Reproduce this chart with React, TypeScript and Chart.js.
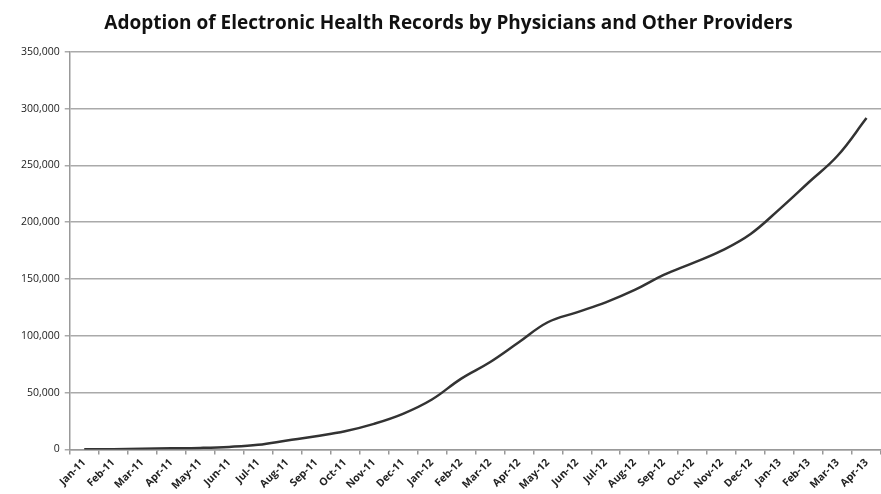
import React, { useEffect, useRef } from "react";
import { Chart, registerables } from "chart.js";

Chart.register(...registerables);

const months = [
  "Jan-11", "Feb-11", "Mar-11", "Apr-11", "May-11", "Jun-11", "Jul-11", "Aug-11", "Sep-11", "Oct-11", "Nov-11", "Dec-11",
  "Jan-12", "Feb-12", "Mar-12", "Apr-12", "May-12", "Jun-12", "Jul-12", "Aug-12", "Sep-12", "Oct-12", "Nov-12", "Dec-12",
  "Jan-13", "Feb-13", "Mar-13", "Apr-13",
];

const providers = [
  200, 300, 700, 1000, 1400, 2300, 4100, 7900, 11700, 16100, 22600, 31400,
  44000, 62200, 76800, 94400, 112000, 120700, 129500, 140400, 153600, 164000, 175000, 189700,
  211600, 235000, 258500, 291700,
];

const yMax = 350000;
const yStep = 50000;
const chartTitle = "Adoption of Electronic Health Records by Physicians and Other Providers";

export default function App() {
  const ref = useRef<HTMLCanvasElement>(null);
  useEffect(() => {
    document.body.style.margin = "0";
    const chart = new Chart(ref.current!, {
      type: "line",
      data: {
        labels: months,
        datasets: [
          {
            data: providers,
            borderColor: "#333333",
            borderWidth: 2.5,
            pointRadius: 0,
            tension: 0.4,
            fill: false,
          },
        ],
      },
      options: {
        animation: false,
        responsive: false,
        layout: { padding: { left: 16, right: 0, top: 2, bottom: 0 } },
        plugins: {
          legend: { display: false },
          tooltip: { enabled: false },
          title: {
            display: true,
            text: chartTitle,
            color: "#111",
            font: { family: "'Open Sans', sans-serif", size: 19, weight: "bold" },
            padding: { top: 10, bottom: 17 },
          },
        },
        scales: {
          x: {
            offset: true,
            grid: { drawOnChartArea: false, drawTicks: true, tickLength: 5, offset: true, color: "#999", lineWidth: 1.5 },
            border: { display: true, color: "#999", width: 1.5 },
            ticks: {
              autoSkip: false,
              minRotation: 45,
              maxRotation: 45,
              color: "#222",
              padding: 2,
              font: { family: "'Open Sans', sans-serif", size: 10.5, weight: "bold" },
            },
          },
          y: {
            min: 0,
            max: yMax,
            grid: { color: "#aaa", lineWidth: 1.5, tickLength: 5 },
            border: { display: true, color: "#999", width: 1.5 },
            ticks: {
              stepSize: yStep,
              color: "#222",
              padding: 5,
              font: { family: "'Open Sans', sans-serif", size: 10.5 },
              callback: (v: any) => Number(v).toLocaleString("en-US"),
            },
          },
        },
      },
    });
    return () => chart.destroy();
  }, []);
  return <canvas ref={ref} width={881} height={494} style={{ display: "block", background: "#fff" }} />;
}
